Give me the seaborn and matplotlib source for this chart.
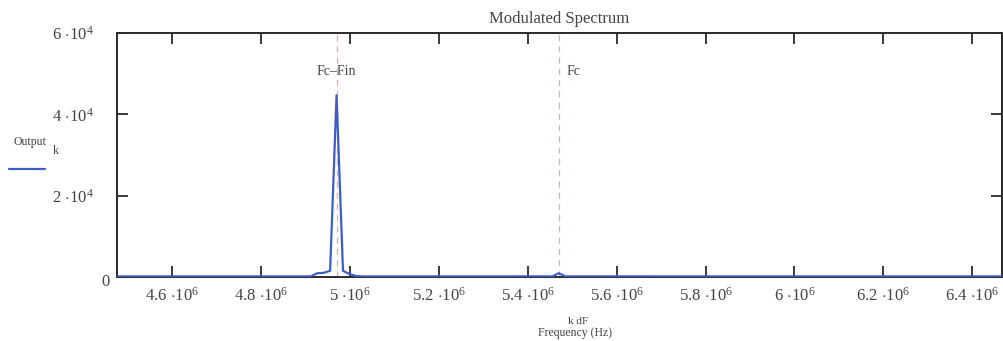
import seaborn as sns
import numpy as np
import pandas as pd
import matplotlib.pyplot as plt
import matplotlib.ticker as mtick
import matplotlib.transforms as mtrans

# spectrum samples (Hz, output magnitude)
freq = [4.476e6, 4.8975e6, 4.912e6, 4.9265e6, 4.941e6, 4.9555e6, 4.97e6, 4.9845e6,
        4.999e6, 5.0135e6, 5.028e6, 5.4555e6, 5.47e6, 5.4845e6, 6.467e6]
output = [120, 120, 150, 900, 1000, 1500, 44700, 1500, 700, 200, 120, 130, 900, 130, 120]
marker_freq = [4.97e6, 5.47e6]
marker_text = ["Fc\u2013Fin", "Fc"]
xticks = [4.6e6, 4.8e6, 5.0e6, 5.2e6, 5.4e6, 5.6e6, 5.8e6, 6.0e6, 6.2e6, 6.4e6]
yticks = [0, 2e4, 4e4, 6e4]

sns.set_theme(style="white")
plt.rcParams['font.family'] = ['Liberation Serif', 'DejaVu Serif']
plt.rcParams['mathtext.fontset'] = 'custom'
plt.rcParams['mathtext.rm'] = 'Liberation Serif'
plt.rcParams['mathtext.it'] = 'Liberation Serif'
plt.rcParams['mathtext.bf'] = 'Liberation Serif'

df = pd.DataFrame({"freq": freq, "output": output})

fig = plt.figure(figsize=(10.04, 3.41), dpi=100)
ax = fig.add_axes([0.1165, 0.188, 0.8815, 0.715])

for xf in marker_freq:
    ax.axvline(xf, color="#f5a49a", lw=0.9, ls=(0, (5, 4)), zorder=1)

sns.lineplot(x="freq", y="output", data=df, estimator=None, color="#3d5ccc",
             lw=1.6, ax=ax, zorder=3)

ax.set_xlim(4.476e6, 6.467e6)
ax.set_ylim(0, 6e4)


def sci(v, p, e):
    if v == 0:
        return "0"
    m = v / 10**e
    s = "%d" % round(m) if abs(m - round(m)) < 1e-9 else "%.1f" % m
    return r"$%s\ {\cdot}10^{%d}$" % (s, e)


ax.xaxis.set_major_locator(mtick.FixedLocator(xticks))
ax.yaxis.set_major_locator(mtick.FixedLocator(yticks))
ax.xaxis.set_major_formatter(mtick.FuncFormatter(lambda v, p: sci(v, p, 6)))
ax.yaxis.set_major_formatter(mtick.FuncFormatter(lambda v, p: sci(v, p, 4)))
ax.tick_params(axis="both", which="major", direction="in", length=8, width=1.3,
               color="#2a2a2a", labelcolor="#444444", labelsize=12,
               top=True, right=True, bottom=True, left=True)
ax.tick_params(axis="x", pad=7)
ax.tick_params(axis="y", pad=17)

# the zero label sits closer to the axis in the original
t0 = ax.yaxis.get_major_ticks()[0]
t0.label1.set_transform(t0.label1.get_transform() +
                        mtrans.ScaledTranslation(16 / 100, -3 / 100, fig.dpi_scale_trans))

for sp in ax.spines.values():
    sp.set_color("#2a2a2a")
    sp.set_linewidth(1.4)

# marker labels
ax.text(marker_freq[0], 5.05e4, marker_text[0], ha="center", va="center",
        fontsize=10, color="#444444")
ax.text(marker_freq[1] + 0.018e6, 5.05e4, marker_text[1], ha="left", va="center",
        fontsize=10, color="#444444")

ax.set_title("Modulated Spectrum", fontsize=12, color="#444444", pad=7)
ax.set_xlabel("")
ax.set_ylabel("")

# axis labels the Mathcad way
fig.text(578 / 1004, 1 - 321 / 341, "k dF", ha="center", va="center", fontsize=8,
         color="#444444")
fig.text(575 / 1004, 1 - 333 / 341, "Frequency (Hz)", ha="center", va="center",
         fontsize=8.5, color="#444444")
fig.text(13 / 1004, 1 - 142 / 341, "Output", ha="left", va="center", fontsize=8.5,
         color="#444444")
fig.text(53 / 1004, 1 - 151 / 341, "k", ha="left", va="center", fontsize=8.5,
         color="#444444")
fig.add_artist(plt.Line2D([9 / 1004, 45 / 1004], [1 - 169 / 341, 1 - 169 / 341],
                          color="#3d5ccc", lw=1.6))

plt.savefig("out.png", dpi=100)
